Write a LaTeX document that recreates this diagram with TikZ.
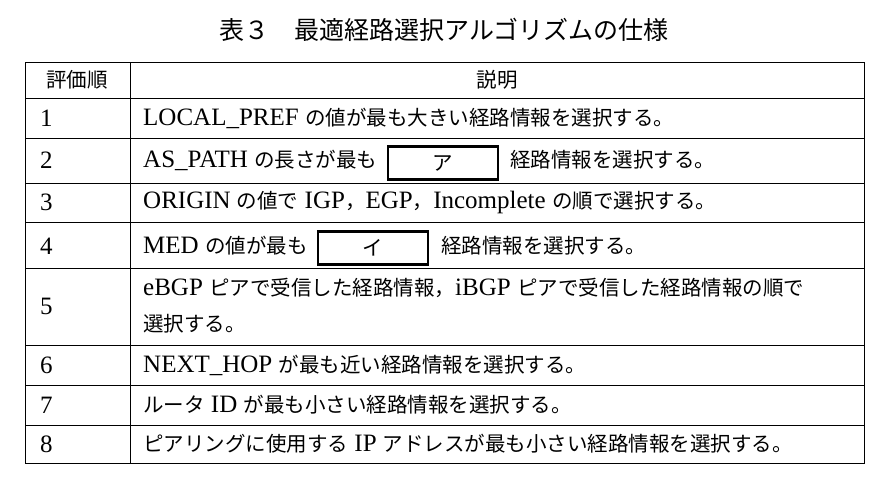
\documentclass[tikz,border=0pt]{standalone}
\usepackage{fontspec}
\setmainfont[Scale=1.22]{Liberation Serif}
\newfontfamily\jp{Noto Sans CJK JP}
\newcommand{\J}[1]{{\jp #1}}
\begin{document}
\begin{tikzpicture}[x=1pt,y=-1pt,
  txt/.style={anchor=west,inner sep=0pt,font=\fontsize{20.5}{24}\selectfont},
  blank/.style={draw,line width=2.4pt,minimum width=110pt,minimum height=33pt,inner sep=0pt,font=\fontsize{20.5}{24}\selectfont},
  grid/.style={line width=1pt}]
\useasboundingbox (0,0) rectangle (888,488);
\node[font=\fontsize{25}{28}\selectfont] (title) at (444,30) {\J{表３　最適経路選択アルゴリズムの仕様}};
\draw[grid] (25,62) rectangle (864,463);
\foreach \y in {98,138,183,222,268,345,385,425} \draw[grid] (25,\y) -- (864,\y);
\draw[grid] (130,62) -- (130,463);
\node[txt,anchor=center] (h1) at (77,80) {\J{評価順}};
\node[txt,anchor=center] (h2) at (497,80) {\J{説明}};
\foreach \n/\y in {1/118,2/160,3/202,4/246,5/306,6/365,7/405,8/444}
  \node[txt] (n\n) at (40,\y) {\n};
\node[txt] (r1) at (143,118) {LOCAL\_PREF \J{の値が最も大きい経路情報を選択する。}};
\node[txt] (r2a) at (143,160) {AS\_PATH \J{の長さが最も}};
\node[blank,anchor=west] (ba) at (387,163) {\J{ア}};
\node[txt] (r2b) at (510,160) {\J{経路情報を選択する。}};
\node[txt] (r3) at (143,202) {ORIGIN \J{の値で} IGP\J{，}EGP\J{，}Incomplete \J{の順で選択する。}};
\node[txt] (r4a) at (143,246) {MED \J{の値が最も}};
\node[blank,anchor=west] (bi) at (317,248) {\J{イ}};
\node[txt] (r4b) at (441,246) {\J{経路情報を選択する。}};
\node[txt] (r5a) at (143,288) {eBGP \J{ピアで受信した経路情報，}iBGP \J{ピアで受信した経路情報の順で}};
\node[txt] (r5b) at (143,324) {\J{選択する。}};
\node[txt] (r6) at (143,365) {NEXT\_HOP \J{が最も近い経路情報を選択する。}};
\node[txt] (r7) at (143,405) {\J{ルータ} ID \J{が最も小さい経路情報を選択する。}};
\node[txt] (r8) at (143,444) {\J{ピアリングに使用する} IP \J{アドレスが最も小さい経路情報を選択する。}};
\end{tikzpicture}
\end{document}
